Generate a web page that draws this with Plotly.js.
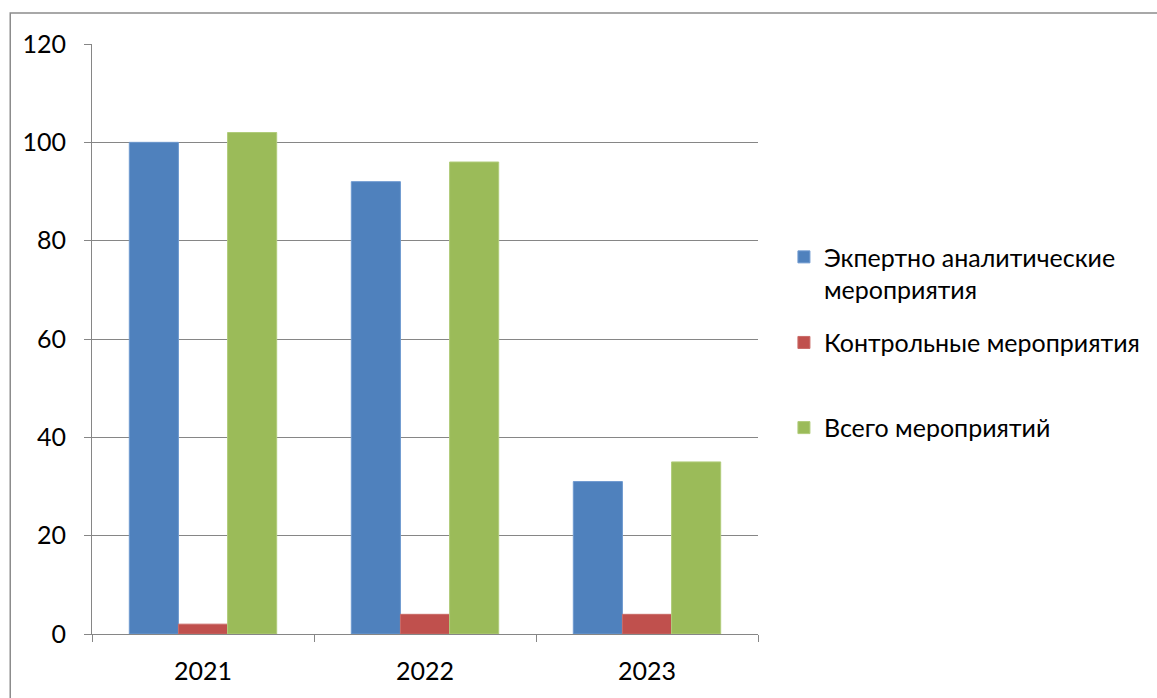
<!DOCTYPE html>
<html>
<head>
<meta charset="utf-8">
<script src="https://cdn.plot.ly/plotly-3.0.1.min.js"></script>
<style>html,body{margin:0;padding:0;background:#fff;}#chart{width:1157px;height:698px;}</style>
</head>
<body>
<div id="chart"></div>
<script>
var years = ['2021', '2022', '2023'];
var seriesNames = ['Экпертно аналитические<br>мероприятия', 'Контрольные мероприятия', 'Всего мероприятий'];
var expertValues = [100, 92, 31];
var controlValues = [2, 4, 4];
var totalValues = [102, 96, 35];
var yTicks = [0, 20, 40, 60, 80, 100, 120];

var colors = ['#4F81BD', '#C0504D', '#9BBB59'];
var lineColors = ['#6f9ad0', '#c96a67', '#b0cc7a'];
var values = [expertValues, controlValues, totalValues];
var legends = ['legend', 'legend2', 'legend3'];

var traces = values.map(function (v, i) {
  return {
    type: 'bar', x: years, y: v, name: seriesNames[i],
    marker: {color: colors[i], line: {color: lineColors[i], width: 1}},
    legend: legends[i], hoverinfo: 'x+y'
  };
});

var fontFam = 'Lato, "Open Sans", sans-serif';
var W = 668, H = 591, L = 92, B = 634.5;
function px(x) { return (x - L) / W; }
function py(y) { return (B - y) / H; }

var legendBase = {
  font: {family: fontFam, size: 25, color: '#000'},
  bgcolor: 'rgba(0,0,0,0)', borderwidth: 0,
  xanchor: 'left', yanchor: 'middle', x: px(786), valign: 'top'
};
function lg(y) { var o = Object.assign({}, legendBase); o.y = py(y); return o; }

var layout = {
  width: 1157, height: 698,
  margin: {l: 92, r: 397, t: 43.5, b: 63.5},
  paper_bgcolor: '#fff', plot_bgcolor: '#fff',
  barmode: 'group', bargap: 0.336, bargroupgap: 0,
  font: {family: fontFam, size: 25, color: '#000'},
  showlegend: true,
  legend: lg(273),
  legend2: lg(342.7),
  legend3: lg(428),
  xaxis: {
    type: 'category', tickson: 'boundaries', ticks: 'outside', ticklen: 7,
    tickcolor: '#868686', showline: true, linecolor: '#868686', linewidth: 1,
    showgrid: false, ticklabelstandoff: 15,
    tickfont: {family: fontFam, size: 25, color: '#000'}
  },
  yaxis: {
    range: [0, 120], tickvals: yTicks, ticks: 'outside', ticklen: 7,
    tickcolor: '#868686', showline: true, linecolor: '#868686', linewidth: 1,
    showgrid: true, gridcolor: '#868686', gridwidth: 1, zeroline: false,
    ticklabelstandoff: 13,
    tickfont: {family: fontFam, size: 25, color: '#000'}
  },
  shapes: [{
    type: 'rect', xref: 'paper', yref: 'paper',
    x0: px(10), x1: px(1170), y0: py(710), y1: py(12.5),
    line: {color: '#8c8c8c', width: 1.5}, fillcolor: 'rgba(0,0,0,0)', layer: 'below'
  }]
};

Plotly.newPlot('chart', traces, layout, {displayModeBar: false, staticPlot: true});
</script>
</body>
</html>
